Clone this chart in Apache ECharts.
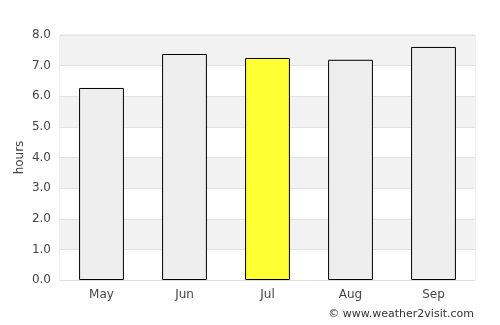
<!DOCTYPE html>
<html>
<head>
<meta charset="utf-8">
<script src="https://cdn.jsdelivr.net/npm/echarts@6/dist/echarts.min.js"></script>
<style>
  html, body { margin: 0; padding: 0; background: #fff; }
  #main { width: 500px; height: 325px; }
</style>
</head>
<body>
<div id="main"></div>
<script>
var months = ['May', 'Jun', 'Jul', 'Aug', 'Sep'];
var hours = [6.27, 7.38, 7.25, 7.19, 7.61];
var highlightMonth = 'Jul';

var chart = echarts.init(document.getElementById('main'));

var option = {
  animation: false,
  textStyle: { fontFamily: 'DejaVu Sans' },
  grid: { left: 60, right: 25, top: 35, bottom: 45, show: true, borderColor: '#dddddd', borderWidth: 1 },
  xAxis: {
    type: 'category',
    data: months,
    axisLine: { lineStyle: { color: '#dddddd' } },
    axisTick: { show: false },
    axisLabel: { color: '#444', fontSize: 12, margin: 9 }
  },
  yAxis: {
    type: 'value',
    min: 0,
    max: 8,
    interval: 1,
    name: 'hours',
    nameLocation: 'middle',
    nameGap: 34,
    nameMoveOverlap: false,
    nameTextStyle: { color: '#444', fontSize: 12 },
    axisLine: { show: false },
    axisTick: { show: false },
    axisLabel: { color: '#444', fontSize: 12, margin: 9, formatter: function (v) { return v.toFixed(1); } },
    splitLine: { lineStyle: { color: '#e2e2e2' } },
    splitArea: { show: true, areaStyle: { color: ['#ffffff', '#f2f2f2'] } }
  },
  series: [{
    type: 'bar',
    barWidth: '54%',
    data: hours.map(function (v, i) {
      return {
        value: v,
        itemStyle: { color: months[i] === highlightMonth ? '#ffff33' : '#eeeeee' }
      };
    }),
    itemStyle: { borderColor: '#000', borderWidth: 1 }
  }],
  graphic: [{
    type: 'text',
    right: 26,
    bottom: 5,
    style: { text: '© www.weather2visit.com', fill: '#333', fontSize: 11, fontFamily: 'DejaVu Sans' }
  }]
};

chart.setOption(option);
</script>
</body>
</html>
